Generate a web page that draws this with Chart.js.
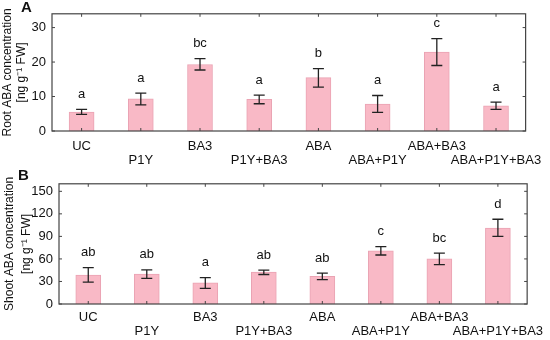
<!DOCTYPE html>
<html>
<head>
<meta charset="utf-8">
<script src="https://cdn.jsdelivr.net/npm/chart.js@4.4.1/dist/chart.umd.min.js"></script>
<style>
  body { margin: 0; background: #fff; }
  .panel { position: relative; width: 550px; height: 170px; }
  .tag { position: absolute; font: bold 15px "Liberation Sans", Arial, sans-serif; color: #111; }
</style>
</head>
<body>
<div class="panel"><canvas id="rootChart" width="550" height="170"></canvas><div class="tag" style="left:21px;top:-2px">A</div></div>
<div class="panel"><canvas id="shootChart" width="550" height="170"></canvas><div class="tag" style="left:18px;top:-4px">B</div></div>
<script>
// treatments
const groups = ["UC", "P1Y", "BA3", "P1Y+BA3", "ABA", "ABA+P1Y", "ABA+BA3", "ABA+P1Y+BA3"];

// Root ABA (panel A)
const rootMean = [5.5, 9.3, 19.3, 9.2, 15.5, 7.8, 22.9, 7.3];
const rootLow  = [4.8, 7.6, 17.7, 7.9, 12.7, 5.4, 19.0, 6.3];
const rootHigh = [6.3, 11.0, 21.0, 10.4, 18.1, 10.3, 26.8, 8.4];
const rootLetters = ["a", "a", "bc", "a", "b", "a", "c", "a"];
const rootTicks = [0, 10, 20, 30];

// Shoot ABA (panel B)
const shootMean = [38.5, 39.8, 28.1, 42.4, 36.7, 70.9, 60.0, 101.2];
const shootLow  = [29.0, 34.1, 20.7, 39.3, 32.4, 65.2, 52.3, 89.9];
const shootHigh = [48.4, 45.4, 35.0, 45.0, 41.1, 76.5, 67.8, 112.8];
const shootLetters = ["ab", "ab", "a", "ab", "ab", "c", "bc", "d"];
const shootTicks = [0, 30, 60, 90, 120, 150];

const fontFam = '"Liberation Sans", Arial, sans-serif';

const extras = {
    id: "extras",
    afterDatasetsDraw(chart, args, opts) {
        const ctx = chart.ctx;
        const y = chart.scales.y;
        const meta = chart.getDatasetMeta(0);
        ctx.save();
        ctx.strokeStyle = "#222";
        ctx.lineWidth = 1.3;
        meta.data.forEach((bar, i) => {
            const cx = bar.x;
            const yl = y.getPixelForValue(opts.low[i]);
            const yh = y.getPixelForValue(opts.high[i]);
            ctx.beginPath();
            ctx.moveTo(cx, yl); ctx.lineTo(cx, yh);
            ctx.moveTo(cx - 5.5, yl); ctx.lineTo(cx + 5.5, yl);
            ctx.moveTo(cx - 5.5, yh); ctx.lineTo(cx + 5.5, yh);
            ctx.stroke();
            ctx.fillStyle = "#111";
            ctx.font = "13px " + fontFam;
            ctx.textAlign = "center";
            ctx.textBaseline = "middle";
            ctx.fillText(opts.letters[i], cx, yh - 15);
        });
        // frame with inward ticks
        const a = chart.chartArea;
        ctx.strokeStyle = "#444";
        ctx.lineWidth = 1.2;
        ctx.strokeRect(a.left, a.top, a.right - a.left, a.bottom - a.top);
        ctx.lineWidth = 1;
        ctx.beginPath();
        y.ticks.forEach(t => {
            const py = y.getPixelForValue(t.value);
            ctx.moveTo(a.left, py); ctx.lineTo(a.left + 3, py);
            ctx.moveTo(a.right, py); ctx.lineTo(a.right - 3, py);
        });
        meta.data.forEach(bar => {
            ctx.moveTo(bar.x, a.bottom); ctx.lineTo(bar.x, a.bottom - 3);
            ctx.moveTo(bar.x, a.top); ctx.lineTo(bar.x, a.top + 3);
        });
        ctx.stroke();
        ctx.restore();
    }
};

function makeChart(id, mean, low, high, letters, ticks, yMax, title, pad) {
    return new Chart(document.getElementById(id), {
        type: "bar",
        data: {
            labels: groups,
            datasets: [{
                data: mean,
                backgroundColor: "#f9b9c6",
                borderColor: "#eaa3b3",
                borderWidth: 1,
                barThickness: 25
            }]
        },
        options: {
            responsive: false,
            animation: false,
            layout: { padding: { top: pad.top, right: pad.right, left: 0, bottom: 0 } },
            plugins: {
                legend: { display: false },
                tooltip: { enabled: false },
                extras: { low: low, high: high, letters: letters }
            },
            scales: {
                x: {
                    grid: { display: false, drawTicks: false },
                    border: { display: false },
                    ticks: {
                        padding: pad.label,
                        maxRotation: 0,
                        autoSkip: false,
                        color: "#111",
                        font: { family: fontFam, size: 13, lineHeight: 1.1 },
                        callback: (v, i) => i % 2 === 0 ? [groups[i], ""] : ["", groups[i]]
                    },
                    afterFit: s => { s.height = pad.bottom; }
                },
                y: {
                    min: 0,
                    max: yMax,
                    grid: { display: false, drawTicks: false },
                    border: { display: false },
                    afterBuildTicks: s => { s.ticks = ticks.map(v => ({ value: v })); },
                    ticks: {
                        padding: 6,
                        color: "#111",
                        font: { family: fontFam, size: 13 }
                    },
                    title: {
                        display: true,
                        text: [title, "[ng g\u207B\u00B9 FW]"],
                        color: "#111",
                        padding: { top: pad.titleGap, bottom: 0 },
                        font: { family: fontFam, size: 12, lineHeight: pad.titleLine }
                    },
                    afterFit: s => { s.width = pad.left; }
                }
            }
        },
        plugins: [extras]
    });
}

makeChart("rootChart", rootMean, rootLow, rootHigh, rootLetters, rootTicks, 34,
    "Root ABA concentration",
    { top: 6, right: 13, left: 52, bottom: 39, label: 8, titleGap: 1, titleLine: 1.15 });
makeChart("shootChart", shootMean, shootLow, shootHigh, shootLetters, shootTicks, 160,
    "Shoot ABA concentration",
    { top: 11, right: 15, left: 59, bottom: 36, label: 6, titleGap: 2, titleLine: 1.35 });
</script>
</body>
</html>
